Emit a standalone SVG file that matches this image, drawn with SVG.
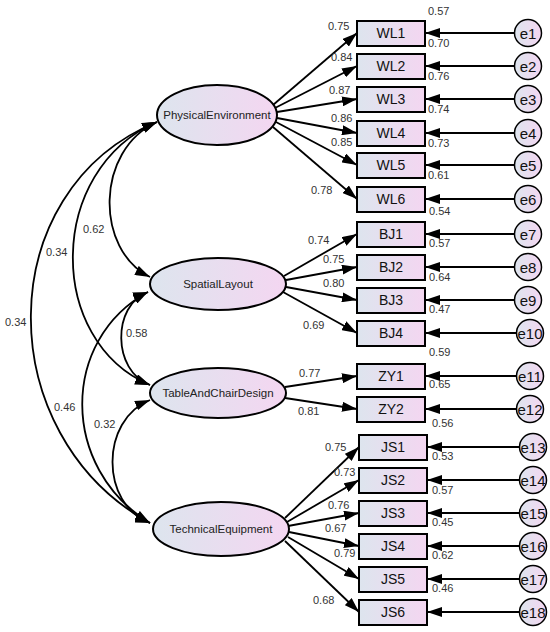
<svg xmlns="http://www.w3.org/2000/svg" width="550" height="632" viewBox="0 0 550 632">
<defs>
<linearGradient id="g" x1="0" y1="0" x2="1" y2="0">
<stop offset="0" stop-color="#dde5ee"/>
<stop offset="1" stop-color="#f4d6f1"/>
</linearGradient>
<marker id="ah" markerUnits="userSpaceOnUse" markerWidth="16" markerHeight="10" refX="15" refY="5" orient="auto-start-reverse" viewBox="0 0 16 10">
<path d="M0,0 L15,5 L0,10 z" fill="#000"/>
</marker>
<style>
.lat{fill:url(#g);stroke:#000;stroke-width:2}
.obs{fill:url(#g);stroke:#000;stroke-width:2}
.err{fill:url(#g);stroke:#000;stroke-width:1.5}
.lt{font-family:"Liberation Sans",Arial,sans-serif;font-size:11.5px;fill:#222;text-anchor:middle}
.ot{font-family:"Liberation Sans",Arial,sans-serif;font-size:14px;fill:#111;text-anchor:middle}
.et{font-family:"Liberation Sans",Arial,sans-serif;font-size:15px;fill:#111;text-anchor:middle}
.num{font-family:"Liberation Sans",Arial,sans-serif;font-size:11px;fill:#333}
.ln{fill:none;stroke:#000;stroke-width:1.8;marker-end:url(#ah)}
.cv{fill:none;stroke:#000;stroke-width:1.8;marker-start:url(#ah);marker-end:url(#ah)}
</style>
</defs>
<g id="connectors">
<path class="cv" d="M157,122 C95,150 95,250 150,277"/>
<path class="cv" d="M157,122 C46,170 46,341 150,385"/>
<path class="cv" d="M157,122 C-10,190 -10,435 150,523"/>
<path class="cv" d="M148,292 C112,305 112,371 150,385"/>
<path class="cv" d="M148,292 C60,340 60,468 150,523"/>
<path class="cv" d="M150,400 C100,420 100,504 150,523"/>
<line class="ln" x1="273" y1="105" x2="357" y2="33"/>
<line class="ln" x1="275" y1="108" x2="357" y2="66"/>
<line class="ln" x1="277" y1="112" x2="357" y2="99"/>
<line class="ln" x1="277" y1="118" x2="357" y2="133"/>
<line class="ln" x1="276" y1="122" x2="357" y2="165"/>
<line class="ln" x1="273" y1="127" x2="357" y2="199"/>
<line class="ln" x1="284" y1="276" x2="357" y2="234"/>
<line class="ln" x1="286" y1="280" x2="357" y2="267"/>
<line class="ln" x1="286" y1="287" x2="357" y2="300"/>
<line class="ln" x1="283" y1="292" x2="357" y2="333"/>
<line class="ln" x1="285" y1="387" x2="357" y2="376"/>
<line class="ln" x1="285" y1="398" x2="357" y2="409"/>
<line class="ln" x1="285" y1="518" x2="359" y2="447"/>
<line class="ln" x1="287" y1="522" x2="359" y2="480"/>
<line class="ln" x1="288" y1="526" x2="359" y2="513"/>
<line class="ln" x1="289" y1="532" x2="359" y2="546"/>
<line class="ln" x1="288" y1="537" x2="359" y2="579"/>
<line class="ln" x1="285" y1="541" x2="359" y2="612"/>
<line class="ln" x1="514.5" y1="33" x2="425" y2="33"/>
<line class="ln" x1="514.5" y1="66" x2="425" y2="66"/>
<line class="ln" x1="514.5" y1="99" x2="425" y2="99"/>
<line class="ln" x1="514.5" y1="133" x2="425" y2="133"/>
<line class="ln" x1="514.5" y1="165" x2="425" y2="165"/>
<line class="ln" x1="514.5" y1="199" x2="425" y2="199"/>
<line class="ln" x1="514.5" y1="234" x2="425" y2="234"/>
<line class="ln" x1="514.5" y1="267" x2="425" y2="267"/>
<line class="ln" x1="514.5" y1="300" x2="425" y2="300"/>
<line class="ln" x1="516.5" y1="333" x2="425" y2="333"/>
<line class="ln" x1="516.5" y1="376" x2="425" y2="376"/>
<line class="ln" x1="516.5" y1="409" x2="425" y2="409"/>
<line class="ln" x1="519.5" y1="447" x2="427" y2="447"/>
<line class="ln" x1="519.5" y1="480" x2="427" y2="480"/>
<line class="ln" x1="519.5" y1="513" x2="427" y2="513"/>
<line class="ln" x1="519.5" y1="546" x2="427" y2="546"/>
<line class="ln" x1="519.5" y1="579" x2="427" y2="579"/>
<line class="ln" x1="519.5" y1="612" x2="427" y2="612"/>
</g>
<g id="PhysicalEnvironment"><ellipse class="lat" cx="217" cy="115" rx="60" ry="30"/><text class="lt" x="217" y="119">PhysicalEnvironment</text></g>
<g id="SpatialLayout"><ellipse class="lat" cx="218" cy="284" rx="68" ry="26"/><text class="lt" x="218" y="288">SpatialLayout</text></g>
<g id="TableAndChairDesign"><ellipse class="lat" cx="218" cy="393" rx="68" ry="25"/><text class="lt" x="218" y="397">TableAndChairDesign</text></g>
<g id="TechnicalEquipment"><ellipse class="lat" cx="221" cy="529" rx="68" ry="27"/><text class="lt" x="221" y="533">TechnicalEquipment</text></g>
<g id="WL1"><rect class="obs" x="357" y="21" width="68" height="25"/><text class="ot" x="391" y="38">WL1</text></g>
<g id="WL2"><rect class="obs" x="357" y="54" width="68" height="25"/><text class="ot" x="391" y="71">WL2</text></g>
<g id="WL3"><rect class="obs" x="357" y="87" width="68" height="25"/><text class="ot" x="391" y="104">WL3</text></g>
<g id="WL4"><rect class="obs" x="357" y="121" width="68" height="25"/><text class="ot" x="391" y="138">WL4</text></g>
<g id="WL5"><rect class="obs" x="357" y="153" width="68" height="25"/><text class="ot" x="391" y="170">WL5</text></g>
<g id="WL6"><rect class="obs" x="357" y="187" width="68" height="25"/><text class="ot" x="391" y="204">WL6</text></g>
<g id="BJ1"><rect class="obs" x="357" y="222" width="68" height="25"/><text class="ot" x="391" y="239">BJ1</text></g>
<g id="BJ2"><rect class="obs" x="357" y="255" width="68" height="25"/><text class="ot" x="391" y="272">BJ2</text></g>
<g id="BJ3"><rect class="obs" x="357" y="288" width="68" height="25"/><text class="ot" x="391" y="305">BJ3</text></g>
<g id="BJ4"><rect class="obs" x="357" y="321" width="68" height="25"/><text class="ot" x="391" y="338">BJ4</text></g>
<g id="ZY1"><rect class="obs" x="357" y="364" width="68" height="25"/><text class="ot" x="391" y="381">ZY1</text></g>
<g id="ZY2"><rect class="obs" x="357" y="397" width="68" height="25"/><text class="ot" x="391" y="414">ZY2</text></g>
<g id="JS1"><rect class="obs" x="359" y="435" width="68" height="25"/><text class="ot" x="393" y="452">JS1</text></g>
<g id="JS2"><rect class="obs" x="359" y="468" width="68" height="25"/><text class="ot" x="393" y="485">JS2</text></g>
<g id="JS3"><rect class="obs" x="359" y="501" width="68" height="25"/><text class="ot" x="393" y="518">JS3</text></g>
<g id="JS4"><rect class="obs" x="359" y="534" width="68" height="25"/><text class="ot" x="393" y="551">JS4</text></g>
<g id="JS5"><rect class="obs" x="359" y="567" width="68" height="25"/><text class="ot" x="393" y="584">JS5</text></g>
<g id="JS6"><rect class="obs" x="359" y="600" width="68" height="25"/><text class="ot" x="393" y="617">JS6</text></g>
<g id="e1"><circle class="err" cx="528" cy="33" r="13.5"/><text class="et" x="528" y="38.5">e1</text></g>
<g id="e2"><circle class="err" cx="528" cy="66" r="13.5"/><text class="et" x="528" y="71.5">e2</text></g>
<g id="e3"><circle class="err" cx="528" cy="99" r="13.5"/><text class="et" x="528" y="104.5">e3</text></g>
<g id="e4"><circle class="err" cx="528" cy="133" r="13.5"/><text class="et" x="528" y="138.5">e4</text></g>
<g id="e5"><circle class="err" cx="528" cy="165" r="13.5"/><text class="et" x="528" y="170.5">e5</text></g>
<g id="e6"><circle class="err" cx="528" cy="199" r="13.5"/><text class="et" x="528" y="204.5">e6</text></g>
<g id="e7"><circle class="err" cx="528" cy="234" r="13.5"/><text class="et" x="528" y="239.5">e7</text></g>
<g id="e8"><circle class="err" cx="528" cy="267" r="13.5"/><text class="et" x="528" y="272.5">e8</text></g>
<g id="e9"><circle class="err" cx="528" cy="300" r="13.5"/><text class="et" x="528" y="305.5">e9</text></g>
<g id="e10"><circle class="err" cx="530" cy="333" r="13.5"/><text class="et" x="530" y="338.5">e10</text></g>
<g id="e11"><circle class="err" cx="530" cy="376" r="13.5"/><text class="et" x="530" y="381.5">e11</text></g>
<g id="e12"><circle class="err" cx="530" cy="409" r="13.5"/><text class="et" x="530" y="414.5">e12</text></g>
<g id="e13"><circle class="err" cx="533" cy="447" r="13.5"/><text class="et" x="533" y="452.5">e13</text></g>
<g id="e14"><circle class="err" cx="533" cy="480" r="13.5"/><text class="et" x="533" y="485.5">e14</text></g>
<g id="e15"><circle class="err" cx="533" cy="513" r="13.5"/><text class="et" x="533" y="518.5">e15</text></g>
<g id="e16"><circle class="err" cx="533" cy="546" r="13.5"/><text class="et" x="533" y="551.5">e16</text></g>
<g id="e17"><circle class="err" cx="533" cy="579" r="13.5"/><text class="et" x="533" y="584.5">e17</text></g>
<g id="e18"><circle class="err" cx="533" cy="612" r="13.5"/><text class="et" x="533" y="617.5">e18</text></g>
<g id="labels" class="num">
<text x="428" y="15">0.57</text>
<text x="428" y="47">0.70</text>
<text x="428" y="80">0.76</text>
<text x="428" y="113">0.74</text>
<text x="428" y="147">0.73</text>
<text x="428" y="179">0.61</text>
<text x="429" y="215">0.54</text>
<text x="429" y="247">0.57</text>
<text x="429" y="281">0.64</text>
<text x="429" y="313">0.47</text>
<text x="429" y="356">0.59</text>
<text x="429" y="388">0.65</text>
<text x="432" y="427">0.56</text>
<text x="432" y="460">0.53</text>
<text x="432" y="494">0.57</text>
<text x="432" y="526">0.45</text>
<text x="432" y="559">0.62</text>
<text x="432" y="592">0.46</text>
<text x="328" y="30">0.75</text>
<text x="331" y="61">0.84</text>
<text x="329" y="94">0.87</text>
<text x="331" y="122">0.86</text>
<text x="331" y="146">0.85</text>
<text x="311" y="194">0.78</text>
<text x="308" y="244">0.74</text>
<text x="323" y="263">0.75</text>
<text x="323" y="287">0.80</text>
<text x="303" y="329">0.69</text>
<text x="299" y="377">0.77</text>
<text x="298" y="415">0.81</text>
<text x="325" y="451">0.75</text>
<text x="334" y="476">0.73</text>
<text x="328" y="509">0.76</text>
<text x="325" y="532">0.67</text>
<text x="334" y="557">0.79</text>
<text x="313" y="604">0.68</text>
<text x="83" y="233">0.62</text>
<text x="46" y="256">0.34</text>
<text x="5" y="326">0.34</text>
<text x="126" y="337">0.58</text>
<text x="54" y="411">0.46</text>
<text x="94" y="428">0.32</text>
</g>
</svg>
